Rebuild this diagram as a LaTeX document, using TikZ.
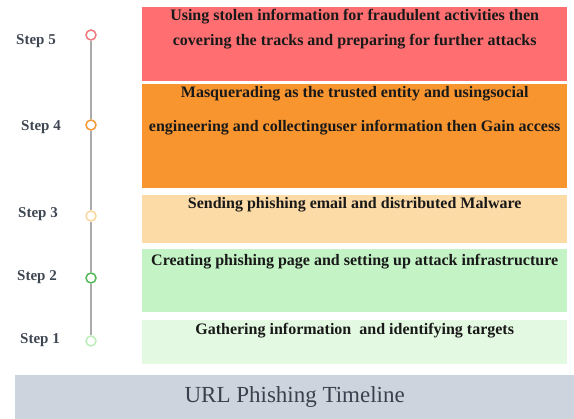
\documentclass[tikz,border=0pt]{standalone}
\usepackage{fontspec}
\setmainfont{Liberation Serif}
\usepackage{tikz}
\usetikzlibrary{positioning}

\definecolor{redbox}{HTML}{FF6F71}
\definecolor{orangebox}{HTML}{F9952F}
\definecolor{peachbox}{HTML}{FDDBA6}
\definecolor{greenbox}{HTML}{C4F4C6}
\definecolor{lightbox}{HTML}{E3F9E1}
\definecolor{greybar}{HTML}{CED4DD}
\definecolor{redring}{HTML}{EE7A80}
\definecolor{orangering}{HTML}{F39A3A}
\definecolor{peachring}{HTML}{FBD8A0}
\definecolor{greenring}{HTML}{55B85A}
\definecolor{lightring}{HTML}{BDEFBA}
\definecolor{linegray}{HTML}{ABABAB}
\definecolor{labelgray}{HTML}{3E4652}
\definecolor{titlegray}{HTML}{3A414E}

\begin{document}
\begin{tikzpicture}[x=1pt, y=-1pt,
            stage/.style={rectangle, anchor=north west, inner sep=0pt, minimum width=425pt},
            stagetext/.style={inner sep=0pt, align=center, text=black!90,
                font=\fontsize{16}{25}\selectfont\bfseries},
            ring/.style={circle, draw, line width=1.5pt, fill=white, minimum size=10pt, inner sep=0pt},
            steplabel/.style={text=labelgray, font=\fontsize{15}{18}\selectfont\bfseries},
            timeline/.style={draw=linegray, line width=1.8pt}]
            \useasboundingbox (0,0) rectangle (574,419);

            % coloured stages
            \node[stage, fill=redbox, minimum height=74pt] (s5) at (142,7) {};
            \node[stage, fill=orangebox, minimum height=104pt] (s4) at (142,84) {};
            \node[stage, fill=peachbox, minimum height=48pt] (s3) at (142,195) {};
            \node[stage, fill=greenbox, minimum height=63pt] (s2) at (142,249) {};
            \node[stage, fill=lightbox, minimum height=44pt] (s1) at (142,320) {};

            % stage descriptions
            \node[stagetext, below=2pt of s5.north] (t5)
                {Using stolen information for fraudulent activities then\\
                 covering the tracks and preparing for further attacks};
            \node[stagetext, below=2pt of s4.north, font=\fontsize{16}{34}\selectfont\bfseries] (t4)
                {Masquerading as the trusted entity and usingsocial\\
                 engineering and collectinguser information then Gain access};
            \node[stagetext, below=2pt of s3.north] (t3) {Sending phishing email and distributed Malware};
            \node[stagetext, below=5pt of s2.north] (t2) {Creating phishing page and setting up attack infrastructure};
            \node[stagetext, below=3pt of s1.north] (t1) {Gathering information\ \ and identifying targets};

            % timeline with rings
            \foreach \n/\y/\col in {5/35/redring, 4/125/orangering, 3/216/peachring, 2/278/greenring, 1/341/lightring} {
                \node[ring, draw=\col] (c\n) at (91,\y) {};
            }
            \foreach \a/\b in {1/2, 2/3, 3/4, 4/5} {
                \draw[timeline] (c\a) -- (c\b);
            }

            % step labels
            \foreach \n/\x/\y in {5/36/41, 4/41/127, 3/38/214, 2/37/277, 1/40/340} {
                \node[steplabel] (l\n) at (\x,\y) {Step \n};
            }

            % title bar
            \node[fill=greybar, anchor=north west, inner sep=0pt, minimum width=559pt, minimum height=44pt] (bar) at (15,375) {};
            \node[text=titlegray, font=\fontsize{23}{27}\selectfont] (title) at (bar.center) {URL Phishing Timeline};
        \end{tikzpicture}
\end{document}
